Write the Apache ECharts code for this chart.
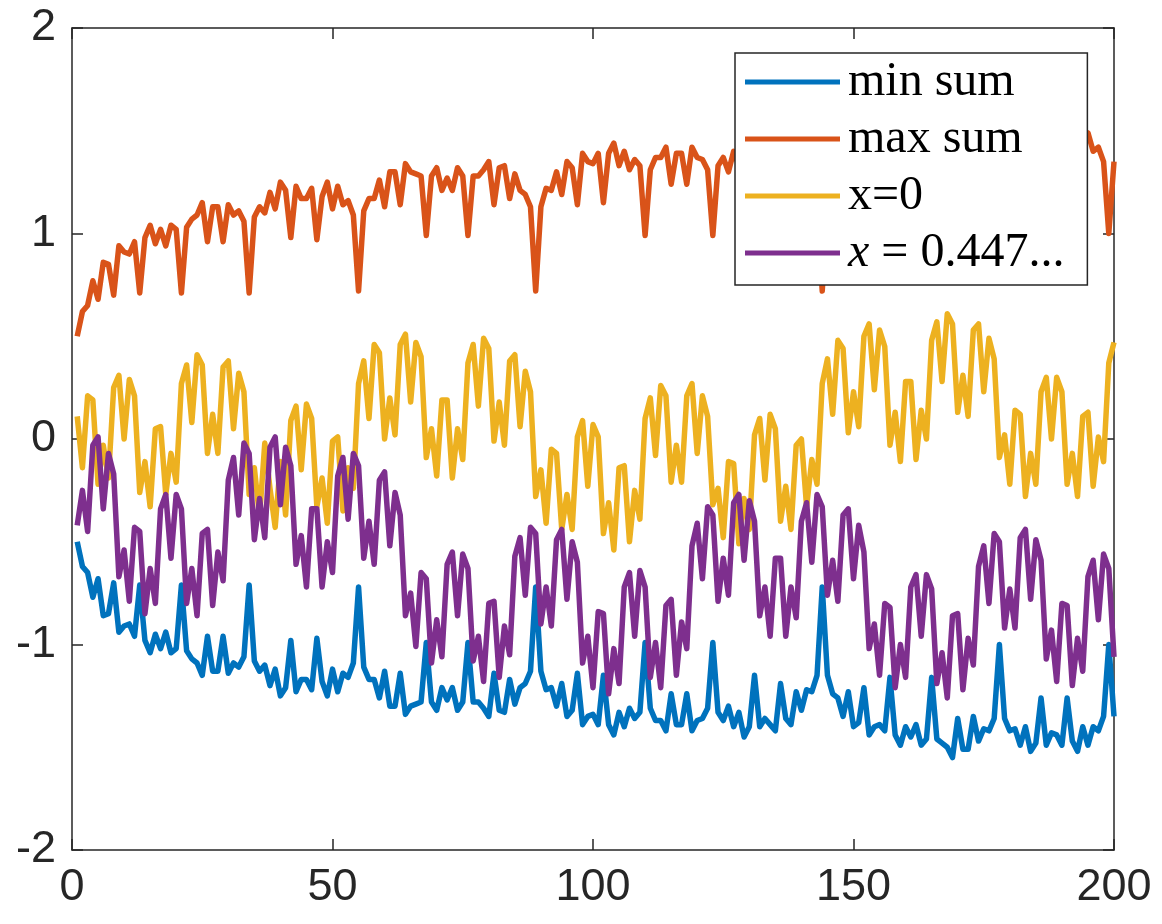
<!DOCTYPE html>
<html>
<head>
<meta charset="utf-8">
<script src="https://cdn.jsdelivr.net/npm/echarts@6/dist/echarts.min.js"></script>
<style>
html,body{margin:0;padding:0;background:#fff;}
#chart{width:1162px;height:924px;}
</style>
</head>
<body>
<div id="chart"></div>
<script>
// ---- data (x = 1..200) ----
const seriesNames = ['min sum', 'max sum', 'x=0', 'x = 0.447...'];
const xTicks = [0, 50, 100, 150, 200];
const yTicks = [-2, -1, 0, 1, 2];

const maxSum = [
0.50,0.62,0.65,0.77,0.68,0.86,0.85,0.70,0.94,0.91,
0.90,0.96,0.71,0.98,1.04,0.95,1.02,0.94,1.04,1.02,
0.71,1.03,1.07,1.09,1.15,0.96,1.13,1.13,0.96,1.14,
1.09,1.11,1.06,0.71,1.08,1.13,1.10,1.20,1.12,1.25,
1.21,0.98,1.23,1.17,1.17,1.22,0.97,1.18,1.25,1.12,
1.23,1.14,1.16,1.09,0.72,1.11,1.17,1.17,1.26,1.13,
1.30,1.30,1.14,1.34,1.30,1.29,1.28,0.99,1.28,1.32,
1.21,1.27,1.21,1.32,1.28,0.99,1.28,1.28,1.31,1.35,
1.14,1.32,1.33,1.17,1.29,1.21,1.19,1.13,0.72,1.13,
1.22,1.21,1.30,1.19,1.35,1.32,1.14,1.39,1.35,1.34,
1.39,1.15,1.39,1.44,1.33,1.40,1.31,1.36,1.33,0.99,
1.31,1.37,1.37,1.42,1.24,1.39,1.39,1.24,1.42,1.37,
1.36,1.31,0.99,1.33,1.37,1.30,1.40,1.33,1.45,1.40,
1.15,1.40,1.36,1.39,1.42,1.19,1.36,1.39,1.23,1.32,
1.22,1.23,1.15,0.72,1.15,1.24,1.26,1.35,1.23,1.40,
1.38,1.21,1.44,1.40,1.39,1.42,1.16,1.44,1.49,1.40,
1.45,1.39,1.49,1.46,1.16,1.46,1.48,1.50,1.55,1.36,
1.51,1.51,1.35,1.47,1.41,1.42,1.36,1.00,1.36,1.42,
1.41,1.49,1.40,1.52,1.48,1.26,1.49,1.43,1.44,1.49,
1.26,1.47,1.52,1.40,1.49,1.40,1.42,1.35,1.00,1.35
];

const minSum = [
-0.50,-0.62,-0.65,-0.77,-0.68,-0.86,-0.85,-0.70,-0.94,-0.91,
-0.90,-0.96,-0.71,-0.98,-1.04,-0.95,-1.02,-0.94,-1.04,-1.02,
-0.71,-1.03,-1.07,-1.09,-1.15,-0.96,-1.13,-1.13,-0.96,-1.14,
-1.09,-1.11,-1.06,-0.71,-1.08,-1.13,-1.10,-1.20,-1.12,-1.25,
-1.21,-0.98,-1.23,-1.17,-1.17,-1.22,-0.97,-1.18,-1.25,-1.12,
-1.23,-1.14,-1.16,-1.09,-0.72,-1.11,-1.17,-1.17,-1.26,-1.13,
-1.30,-1.30,-1.14,-1.34,-1.30,-1.29,-1.28,-0.99,-1.28,-1.32,
-1.21,-1.27,-1.21,-1.32,-1.28,-0.99,-1.28,-1.28,-1.31,-1.35,
-1.14,-1.32,-1.33,-1.17,-1.29,-1.21,-1.19,-1.13,-0.72,-1.13,
-1.22,-1.21,-1.30,-1.19,-1.35,-1.32,-1.14,-1.39,-1.35,-1.34,
-1.39,-1.15,-1.39,-1.44,-1.33,-1.40,-1.31,-1.36,-1.33,-0.99,
-1.31,-1.37,-1.37,-1.42,-1.24,-1.39,-1.39,-1.24,-1.42,-1.37,
-1.36,-1.31,-0.99,-1.33,-1.37,-1.30,-1.40,-1.33,-1.45,-1.40,
-1.15,-1.40,-1.36,-1.39,-1.42,-1.19,-1.36,-1.39,-1.23,-1.32,
-1.22,-1.23,-1.15,-0.72,-1.15,-1.24,-1.26,-1.35,-1.23,-1.40,
-1.38,-1.21,-1.44,-1.40,-1.39,-1.42,-1.16,-1.44,-1.49,-1.40,
-1.45,-1.39,-1.49,-1.46,-1.16,-1.46,-1.48,-1.50,-1.55,-1.36,
-1.51,-1.51,-1.35,-1.47,-1.41,-1.42,-1.36,-1.00,-1.36,-1.42,
-1.41,-1.49,-1.40,-1.52,-1.48,-1.26,-1.49,-1.43,-1.44,-1.49,
-1.26,-1.47,-1.52,-1.40,-1.49,-1.40,-1.42,-1.35,-1.00,-1.35
];

const atZero = [
0.11,-0.14,0.21,0.19,-0.22,-0.03,-0.19,0.25,0.31,0.00,
0.29,0.21,-0.26,-0.11,-0.33,0.05,0.06,-0.27,-0.07,-0.21,
0.27,0.36,0.08,0.41,0.36,-0.07,0.12,-0.07,0.35,0.38,
0.05,0.32,0.23,-0.27,-0.14,-0.38,-0.02,-0.24,-0.43,-0.11,
-0.37,0.09,0.16,-0.15,0.17,0.10,-0.33,-0.19,-0.41,-0.01,
0.01,-0.35,-0.14,-0.24,0.27,0.38,0.10,0.46,0.42,0.00,
0.20,0.02,0.46,0.51,0.18,0.47,0.40,-0.09,0.05,-0.18,
0.19,0.19,-0.19,0.05,-0.10,0.37,0.46,0.16,0.49,0.44,
-0.01,0.18,-0.03,0.38,0.41,0.06,0.33,0.23,-0.28,-0.15,
-0.41,-0.05,-0.07,-0.44,-0.27,-0.44,0.01,0.09,-0.23,0.07,
0.01,-0.46,-0.31,-0.54,-0.14,-0.13,-0.50,-0.25,-0.39,0.10,
0.20,-0.08,0.26,0.21,-0.21,-0.03,-0.21,0.21,0.27,-0.07,
0.21,0.11,-0.32,-0.24,-0.48,-0.11,-0.12,-0.51,-0.29,-0.44,
0.02,0.10,-0.20,0.12,0.05,-0.40,-0.23,-0.44,-0.03,0.00,
-0.33,-0.10,-0.22,0.27,0.39,0.12,0.48,0.44,0.03,0.23,
0.06,0.50,0.56,0.24,0.53,0.45,-0.03,0.13,-0.11,0.28,
0.28,-0.10,0.14,0.00,0.48,0.57,0.28,0.61,0.56,0.13,
0.31,0.11,0.53,0.56,0.23,0.49,0.39,-0.09,0.02,-0.22,
0.14,0.12,-0.28,-0.07,-0.22,0.23,0.30,0.00,0.30,0.23,
-0.22,-0.07,-0.28,0.11,0.13,-0.23,0.01,-0.11,0.37,0.47
];

const atX447 = [
-0.42,-0.25,-0.45,-0.03,0.01,-0.34,-0.07,-0.17,-0.67,-0.54,
-0.79,-0.43,-0.45,-0.85,-0.63,-0.80,-0.34,-0.27,-0.58,-0.27,
-0.34,-0.80,-0.63,-0.86,-0.46,-0.44,-0.81,-0.55,-0.69,-0.20,
-0.09,-0.37,-0.02,-0.07,-0.49,-0.29,-0.48,-0.04,0.01,-0.32,
-0.04,-0.13,-0.61,-0.47,-0.72,-0.34,-0.34,-0.72,-0.50,-0.65,
-0.18,-0.09,-0.39,-0.07,-0.13,-0.58,-0.40,-0.61,-0.20,-0.16,
-0.52,-0.26,-0.37,-0.86,-0.75,-1.01,-0.65,-0.68,-1.09,-0.88,
-1.06,-0.61,-0.55,-0.86,-0.56,-0.63,-1.08,-0.96,-1.18,-0.80,
-0.79,-1.16,-0.91,-1.05,-0.57,-0.48,-0.76,-0.43,-0.46,-0.90,
-0.72,-0.91,-0.49,-0.44,-0.78,-0.50,-0.60,-1.09,-0.96,-1.21,
-0.84,-0.85,-1.24,-1.02,-1.19,-0.72,-0.65,-0.96,-0.64,-0.72,
-1.16,-0.99,-1.21,-0.81,-0.78,-1.15,-0.89,-1.02,-0.52,-0.41,
-0.68,-0.33,-0.37,-0.79,-0.58,-0.76,-0.31,-0.27,-0.59,-0.30,
-0.40,-0.86,-0.72,-0.96,-0.58,-0.58,-0.96,-0.72,-0.87,-0.40,
-0.31,-0.60,-0.27,-0.33,-0.76,-0.59,-0.79,-0.37,-0.34,-0.68,
-0.42,-0.55,-1.02,-0.90,-1.15,-0.80,-0.82,-1.21,-1.00,-1.16,
-0.72,-0.66,-0.96,-0.66,-0.73,-1.19,-1.04,-1.26,-0.86,-0.85,
-1.22,-0.97,-1.10,-0.62,-0.52,-0.80,-0.46,-0.50,-0.92,-0.73,
-0.92,-0.48,-0.44,-0.78,-0.49,-0.59,-1.07,-0.93,-1.18,-0.80,
-0.81,-1.20,-0.97,-1.13,-0.67,-0.59,-0.88,-0.56,-0.63,-1.06
];

const colors = ['#0072BD', '#D95319', '#EDB120', '#7E2F8E'];
const allValues = [minSum, maxSum, atZero, atX447];

function pairs(vals) { return vals.map((v, k) => [k + 1, v]); }

const chart = echarts.init(document.getElementById('chart'), null, {renderer: 'canvas'});
const axisColor = '#262626';
const tickFont = {fontFamily: 'Liberation Sans, Arial, sans-serif', fontSize: 45, color: axisColor};
const serifFont = 'Liberation Serif, serif';

function axisCommon() {
  return {
    axisLine: {show: true, onZero: false, lineStyle: {color: axisColor, width: 1.5}},
    axisTick: {show: true, inside: true, length: 11, lineStyle: {color: axisColor, width: 1.5}},
    splitLine: {show: false}
  };
}

const option = {
  animation: false,
  backgroundColor: '#ffffff',
  grid: {left: 72, right: 48, top: 28, bottom: 74, containLabel: false},
  xAxis: [
    Object.assign({type: 'value', min: 0, max: 200, interval: 50, position: 'bottom',
      axisLabel: Object.assign({margin: 15, formatter: v => xTicks.includes(v) ? String(v) : ''}, tickFont)}, axisCommon()),
    Object.assign({type: 'value', min: 0, max: 200, interval: 50, position: 'top',
      axisLabel: {show: false}}, axisCommon())
  ],
  yAxis: [
    Object.assign({type: 'value', min: -2, max: 2, interval: 1, position: 'left',
      axisLabel: Object.assign({margin: 16, formatter: v => yTicks.includes(v) ? String(v) : ''}, tickFont)}, axisCommon()),
    Object.assign({type: 'value', min: -2, max: 2, interval: 1, position: 'right',
      axisLabel: {show: false}}, axisCommon())
  ],
  legend: {
    orient: 'vertical',
    left: 735, top: 53,
    padding: [5, 23, 8, 10],
    itemGap: 9,
    itemWidth: 95,
    itemHeight: 5,
    icon: 'rect',
    backgroundColor: '#ffffff',
    borderColor: axisColor,
    borderWidth: 1.5,
    data: seriesNames,
    textStyle: {
      fontFamily: serifFont, fontSize: 48, color: '#000', lineHeight: 48,
      rich: {
        it: {fontFamily: serifFont, fontStyle: 'italic', fontSize: 48, color: '#000', lineHeight: 48, padding: [0, 0, 0, 3]},
        n: {fontFamily: serifFont, fontSize: 48, color: '#000', lineHeight: 48, padding: [0, 0, 0, 3]},
        m: {fontFamily: serifFont, fontSize: 48, color: '#000', lineHeight: 48}
      }
    },
    formatter: function (name) {
      if (name === seriesNames[3]) return '{it|x}{m| = 0.447...}';
      return '{n|' + name + '}';
    }
  },
  series: seriesNames.map((name, s) => ({
    name: name,
    type: 'line',
    data: pairs(allValues[s]),
    symbol: 'none',
    smooth: false,
    lineStyle: {color: colors[s], width: 5.5, join: 'round'},
    itemStyle: {color: colors[s]},
    z: 2 + s
  }))
};
chart.setOption(option);
</script>
</body>
</html>
